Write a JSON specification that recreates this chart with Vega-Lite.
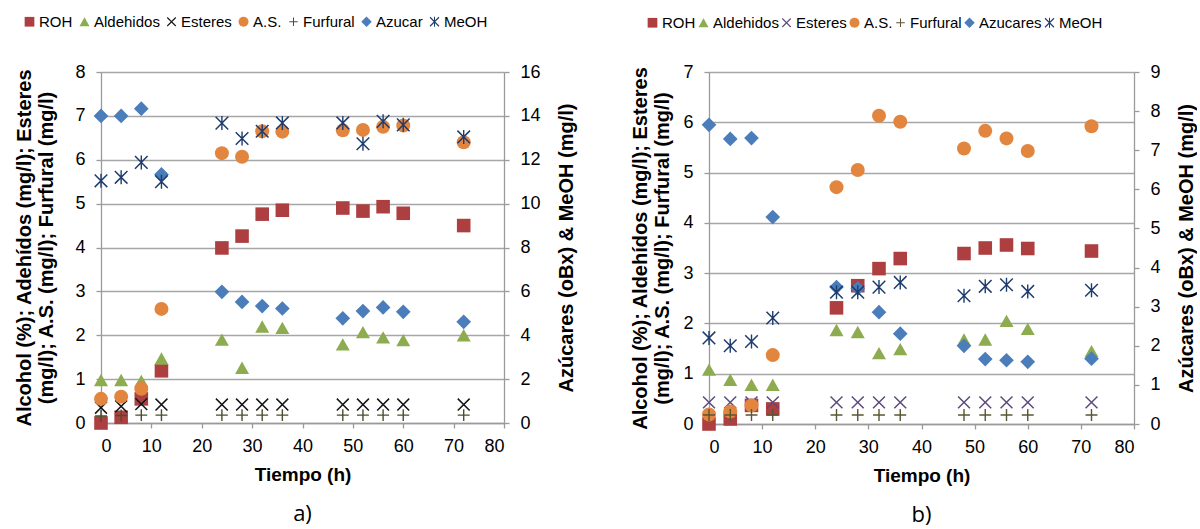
{
  "$schema": "https://vega.github.io/schema/vega-lite/v6.json",
  "background": "white",
  "padding": {"left": 14, "top": 14, "right": 0, "bottom": 2},
  "bounds": "flush",
  "spacing": 205,
  "config": {
    "font": "Liberation Sans",
    "view": {"stroke": null},
    "axis": {
      "labelFont": "Liberation Sans", "labelFontSize": 18, "labelColor": "#000000",
      "titleFont": "Liberation Sans", "titleFontSize": 19, "titleFontWeight": "bold", "titleColor": "#000000",
      "domainColor": "#9A9A9A", "tickColor": "#9A9A9A", "gridColor": "#A6A6A6",
      "domainWidth": 1.3, "gridWidth": 1.3, "tickWidth": 1.3, "tickSize": 5
    },
    "legend": {"labelFont": "Liberation Sans", "labelFontSize": 15, "labelColor": "#000000"}
  },
  "resolve": {
    "scale": {"color": "independent", "shape": "independent", "x": "independent", "y": "independent"},
    "legend": {"color": "independent", "shape": "independent"}
  },
  "datasets": {
    "aL": [
      {"t": 0, "s": "ROH", "v": 0.0}, {"t": 4, "s": "ROH", "v": 0.13}, {"t": 8, "s": "ROH", "v": 0.55}, {"t": 12, "s": "ROH", "v": 1.19},
      {"t": 24, "s": "ROH", "v": 3.99}, {"t": 28, "s": "ROH", "v": 4.26}, {"t": 32, "s": "ROH", "v": 4.76}, {"t": 36, "s": "ROH", "v": 4.85},
      {"t": 48, "s": "ROH", "v": 4.9}, {"t": 52, "s": "ROH", "v": 4.83}, {"t": 56, "s": "ROH", "v": 4.93}, {"t": 60, "s": "ROH", "v": 4.78}, {"t": 72, "s": "ROH", "v": 4.5},
      {"t": 0, "s": "Aldehidos", "v": 0.98}, {"t": 4, "s": "Aldehidos", "v": 0.98}, {"t": 8, "s": "Aldehidos", "v": 0.96}, {"t": 12, "s": "Aldehidos", "v": 1.47},
      {"t": 24, "s": "Aldehidos", "v": 1.9}, {"t": 28, "s": "Aldehidos", "v": 1.26}, {"t": 32, "s": "Aldehidos", "v": 2.2}, {"t": 36, "s": "Aldehidos", "v": 2.17},
      {"t": 48, "s": "Aldehidos", "v": 1.79}, {"t": 52, "s": "Aldehidos", "v": 2.07}, {"t": 56, "s": "Aldehidos", "v": 1.95}, {"t": 60, "s": "Aldehidos", "v": 1.89}, {"t": 72, "s": "Aldehidos", "v": 2.0},
      {"t": 0, "s": "Esteres", "v": 0.35}, {"t": 4, "s": "Esteres", "v": 0.38}, {"t": 8, "s": "Esteres", "v": 0.43}, {"t": 12, "s": "Esteres", "v": 0.42},
      {"t": 24, "s": "Esteres", "v": 0.42}, {"t": 28, "s": "Esteres", "v": 0.42}, {"t": 32, "s": "Esteres", "v": 0.42}, {"t": 36, "s": "Esteres", "v": 0.42},
      {"t": 48, "s": "Esteres", "v": 0.42}, {"t": 52, "s": "Esteres", "v": 0.42}, {"t": 56, "s": "Esteres", "v": 0.42}, {"t": 60, "s": "Esteres", "v": 0.42}, {"t": 72, "s": "Esteres", "v": 0.42},
      {"t": 0, "s": "A.S.", "v": 0.55}, {"t": 4, "s": "A.S.", "v": 0.6}, {"t": 8, "s": "A.S.", "v": 0.78}, {"t": 12, "s": "A.S.", "v": 2.6},
      {"t": 24, "s": "A.S.", "v": 6.15}, {"t": 28, "s": "A.S.", "v": 6.07}, {"t": 32, "s": "A.S.", "v": 6.65}, {"t": 36, "s": "A.S.", "v": 6.64},
      {"t": 48, "s": "A.S.", "v": 6.67}, {"t": 52, "s": "A.S.", "v": 6.68}, {"t": 56, "s": "A.S.", "v": 6.75}, {"t": 60, "s": "A.S.", "v": 6.78}, {"t": 72, "s": "A.S.", "v": 6.4},
      {"t": 0, "s": "Furfural", "v": 0.16}, {"t": 4, "s": "Furfural", "v": 0.17}, {"t": 8, "s": "Furfural", "v": 0.18}, {"t": 12, "s": "Furfural", "v": 0.18},
      {"t": 24, "s": "Furfural", "v": 0.18}, {"t": 28, "s": "Furfural", "v": 0.18}, {"t": 32, "s": "Furfural", "v": 0.18}, {"t": 36, "s": "Furfural", "v": 0.18},
      {"t": 48, "s": "Furfural", "v": 0.18}, {"t": 52, "s": "Furfural", "v": 0.18}, {"t": 56, "s": "Furfural", "v": 0.18}, {"t": 60, "s": "Furfural", "v": 0.18}, {"t": 72, "s": "Furfural", "v": 0.18}
    ],
    "aR": [
      {"t": 0, "s": "Azucar", "v": 14.0}, {"t": 4, "s": "Azucar", "v": 14.0}, {"t": 8, "s": "Azucar", "v": 14.33}, {"t": 12, "s": "Azucar", "v": 11.33},
      {"t": 24, "s": "Azucar", "v": 5.98}, {"t": 28, "s": "Azucar", "v": 5.52}, {"t": 32, "s": "Azucar", "v": 5.33}, {"t": 36, "s": "Azucar", "v": 5.22},
      {"t": 48, "s": "Azucar", "v": 4.77}, {"t": 52, "s": "Azucar", "v": 5.1}, {"t": 56, "s": "Azucar", "v": 5.27}, {"t": 60, "s": "Azucar", "v": 5.07}, {"t": 72, "s": "Azucar", "v": 4.61},
      {"t": 0, "s": "MeOH", "v": 11.04}, {"t": 4, "s": "MeOH", "v": 11.2}, {"t": 8, "s": "MeOH", "v": 11.88}, {"t": 12, "s": "MeOH", "v": 11.0},
      {"t": 24, "s": "MeOH", "v": 13.67}, {"t": 28, "s": "MeOH", "v": 12.97}, {"t": 32, "s": "MeOH", "v": 13.3}, {"t": 36, "s": "MeOH", "v": 13.68},
      {"t": 48, "s": "MeOH", "v": 13.68}, {"t": 52, "s": "MeOH", "v": 12.73}, {"t": 56, "s": "MeOH", "v": 13.75}, {"t": 60, "s": "MeOH", "v": 13.59}, {"t": 72, "s": "MeOH", "v": 13.04}
    ],
    "bL": [
      {"t": 0, "s": "ROH", "v": 0.0}, {"t": 4, "s": "ROH", "v": 0.1}, {"t": 8, "s": "ROH", "v": 0.37}, {"t": 12, "s": "ROH", "v": 0.3},
      {"t": 24, "s": "ROH", "v": 2.31}, {"t": 28, "s": "ROH", "v": 2.75}, {"t": 32, "s": "ROH", "v": 3.09}, {"t": 36, "s": "ROH", "v": 3.29},
      {"t": 48, "s": "ROH", "v": 3.39}, {"t": 52, "s": "ROH", "v": 3.5}, {"t": 56, "s": "ROH", "v": 3.56}, {"t": 60, "s": "ROH", "v": 3.49}, {"t": 72, "s": "ROH", "v": 3.44},
      {"t": 0, "s": "Aldehidos", "v": 1.08}, {"t": 4, "s": "Aldehidos", "v": 0.88}, {"t": 8, "s": "Aldehidos", "v": 0.78}, {"t": 12, "s": "Aldehidos", "v": 0.78},
      {"t": 24, "s": "Aldehidos", "v": 1.87}, {"t": 28, "s": "Aldehidos", "v": 1.83}, {"t": 32, "s": "Aldehidos", "v": 1.41}, {"t": 36, "s": "Aldehidos", "v": 1.49},
      {"t": 48, "s": "Aldehidos", "v": 1.68}, {"t": 52, "s": "Aldehidos", "v": 1.68}, {"t": 56, "s": "Aldehidos", "v": 2.05}, {"t": 60, "s": "Aldehidos", "v": 1.89}, {"t": 72, "s": "Aldehidos", "v": 1.45},
      {"t": 0, "s": "Esteres", "v": 0.43}, {"t": 4, "s": "Esteres", "v": 0.43}, {"t": 8, "s": "Esteres", "v": 0.43}, {"t": 12, "s": "Esteres", "v": 0.43},
      {"t": 24, "s": "Esteres", "v": 0.43}, {"t": 28, "s": "Esteres", "v": 0.43}, {"t": 32, "s": "Esteres", "v": 0.43}, {"t": 36, "s": "Esteres", "v": 0.43},
      {"t": 48, "s": "Esteres", "v": 0.43}, {"t": 52, "s": "Esteres", "v": 0.43}, {"t": 56, "s": "Esteres", "v": 0.43}, {"t": 60, "s": "Esteres", "v": 0.43}, {"t": 72, "s": "Esteres", "v": 0.43},
      {"t": 0, "s": "A.S.", "v": 0.19}, {"t": 4, "s": "A.S.", "v": 0.25}, {"t": 8, "s": "A.S.", "v": 0.37}, {"t": 12, "s": "A.S.", "v": 1.37},
      {"t": 24, "s": "A.S.", "v": 4.71}, {"t": 28, "s": "A.S.", "v": 5.05}, {"t": 32, "s": "A.S.", "v": 6.13}, {"t": 36, "s": "A.S.", "v": 6.01},
      {"t": 48, "s": "A.S.", "v": 5.48}, {"t": 52, "s": "A.S.", "v": 5.83}, {"t": 56, "s": "A.S.", "v": 5.68}, {"t": 60, "s": "A.S.", "v": 5.43}, {"t": 72, "s": "A.S.", "v": 5.92},
      {"t": 0, "s": "Furfural", "v": 0.18}, {"t": 4, "s": "Furfural", "v": 0.18}, {"t": 8, "s": "Furfural", "v": 0.18}, {"t": 12, "s": "Furfural", "v": 0.18},
      {"t": 24, "s": "Furfural", "v": 0.18}, {"t": 28, "s": "Furfural", "v": 0.18}, {"t": 32, "s": "Furfural", "v": 0.18}, {"t": 36, "s": "Furfural", "v": 0.18},
      {"t": 48, "s": "Furfural", "v": 0.18}, {"t": 52, "s": "Furfural", "v": 0.18}, {"t": 56, "s": "Furfural", "v": 0.18}, {"t": 60, "s": "Furfural", "v": 0.18}, {"t": 72, "s": "Furfural", "v": 0.18}
    ],
    "bR": [
      {"t": 0, "s": "Azucares", "v": 7.65}, {"t": 4, "s": "Azucares", "v": 7.29}, {"t": 8, "s": "Azucares", "v": 7.31}, {"t": 12, "s": "Azucares", "v": 5.29},
      {"t": 24, "s": "Azucares", "v": 3.5}, {"t": 28, "s": "Azucares", "v": 3.47}, {"t": 32, "s": "Azucares", "v": 2.86}, {"t": 36, "s": "Azucares", "v": 2.31},
      {"t": 48, "s": "Azucares", "v": 2.0}, {"t": 52, "s": "Azucares", "v": 1.66}, {"t": 56, "s": "Azucares", "v": 1.63}, {"t": 60, "s": "Azucares", "v": 1.59}, {"t": 72, "s": "Azucares", "v": 1.67},
      {"t": 0, "s": "MeOH", "v": 2.2}, {"t": 4, "s": "MeOH", "v": 2.0}, {"t": 8, "s": "MeOH", "v": 2.11}, {"t": 12, "s": "MeOH", "v": 2.71},
      {"t": 24, "s": "MeOH", "v": 3.37}, {"t": 28, "s": "MeOH", "v": 3.37}, {"t": 32, "s": "MeOH", "v": 3.5}, {"t": 36, "s": "MeOH", "v": 3.62},
      {"t": 48, "s": "MeOH", "v": 3.28}, {"t": 52, "s": "MeOH", "v": 3.52}, {"t": 56, "s": "MeOH", "v": 3.56}, {"t": 60, "s": "MeOH", "v": 3.39}, {"t": 72, "s": "MeOH", "v": 3.42}
    ]
  },
  "hconcat": [
    {
      "width": 403,
      "height": 351,
      "title": {"text": "a)", "orient": "bottom", "frame": "group", "font": "Open Sans", "fontSize": 22, "fontWeight": "normal", "color": "#000000", "offset": 20},
      "resolve": {"scale": {"y": "independent"}},
      "layer": [
        {
          "data": {"name": "aL"},
          "mark": {"type": "point", "filled": true, "opacity": 1, "size": 196},
          "encoding": {
            "x": {"field": "t", "type": "quantitative", "scale": {"domain": [0, 80], "nice": false},
                  "axis": {"values": [0, 10, 20, 30, 40, 50, 60, 70, 80], "grid": false, "title": "Tiempo (h)", "labelPadding": 9, "titlePadding": 10}},
            "y": {"field": "v", "type": "quantitative", "scale": {"domain": [0, 8], "nice": false},
                  "axis": {"orient": "left", "values": [0, 1, 2, 3, 4, 5, 6, 7, 8], "grid": true, "labelPadding": 11, "titlePadding": 18, "titleFontSize": 20,
                           "title": ["Alcohol (%);  Adehídos (mg/l); Esteres", "(mg/l); A.S.  (mg/l); Furfural  (mg/l)"]}},
            "color": {"field": "s", "type": "nominal",
                      "scale": {"domain": ["ROH", "Aldehidos", "Esteres", "A.S.", "Furfural", "Azucar", "MeOH"],
                                "range": ["#AD3F40", "#8DAB4F", "#151515", "#E2853F", "#4F4C2C", "#4A7DBA", "#1F3C6E"]},
                      "legend": {"orient": "none", "direction": "horizontal", "legendX": -79, "legendY": -58, "title": null, "symbolSize": 100, "columnPadding": 4, "labelOffset": 2, "symbolStrokeWidth": 0}},
            "shape": {"field": "s", "type": "nominal",
                      "scale": {"domain": ["ROH", "Aldehidos", "Esteres", "A.S.", "Furfural", "Azucar", "MeOH"],
                                "range": [
                                  "M-0.97 -0.97 L0.97 -0.97 L0.97 0.97 L-0.97 0.97 Z",
                                  "M0 -0.88 L1 0.88 L-1 0.88 Z",
                                  "M-0.774 -0.926 L0.926 0.774 L0.774 0.926 L-0.926 -0.774 Z M0.774 -0.926 L0.926 -0.774 L-0.774 0.926 L-0.926 0.774 Z",
                                  "circle",
                                  "M-0.85 -0.1 L0.85 -0.1 L0.85 0.1 L-0.85 0.1 Z M-0.1 -0.85 L0.1 -0.85 L0.1 0.85 L-0.1 0.85 Z",
                                  "M0 -1.05 L1.05 0 L0 1.05 L-1.05 0 Z",
                                  "M-0.824 -0.976 L0.976 0.824 L0.824 0.976 L-0.976 -0.824 Z M0.824 -0.976 L0.976 -0.824 L-0.824 0.976 L-0.976 0.824 Z M-0.1 -1 L0.1 -1 L0.1 1 L-0.1 1 Z"
                                ]},
                      "legend": {"orient": "none", "direction": "horizontal", "legendX": -79, "legendY": -58, "title": null, "symbolSize": 100, "columnPadding": 4, "labelOffset": 2, "symbolStrokeWidth": 0}}
          }
        },
        {
          "data": {"name": "aR"},
          "mark": {"type": "point", "filled": true, "opacity": 1, "size": 196},
          "encoding": {
            "x": {"field": "t", "type": "quantitative", "scale": {"domain": [0, 80], "nice": false},
                  "axis": {"values": [0, 10, 20, 30, 40, 50, 60, 70, 80], "grid": false, "title": "Tiempo (h)", "labelPadding": 9, "titlePadding": 10}},
            "y": {"field": "v", "type": "quantitative", "scale": {"domain": [0, 16], "nice": false},
                  "axis": {"orient": "right", "values": [0, 2, 4, 6, 8, 10, 12, 14, 16], "grid": false, "labelPadding": 11, "titlePadding": 36, "titleAngle": 270, "titleFontSize": 20,
                           "title": "Azúcares (oBx) & MeOH (mg/l)"}},
            "color": {"field": "s", "type": "nominal",
                      "scale": {"domain": ["ROH", "Aldehidos", "Esteres", "A.S.", "Furfural", "Azucar", "MeOH"],
                                "range": ["#AD3F40", "#8DAB4F", "#151515", "#E2853F", "#4F4C2C", "#4A7DBA", "#1F3C6E"]},
                      "legend": {"orient": "none", "direction": "horizontal", "legendX": -79, "legendY": -58, "title": null, "symbolSize": 100, "columnPadding": 4, "labelOffset": 2, "symbolStrokeWidth": 0}},
            "shape": {"field": "s", "type": "nominal",
                      "scale": {"domain": ["ROH", "Aldehidos", "Esteres", "A.S.", "Furfural", "Azucar", "MeOH"],
                                "range": [
                                  "M-0.97 -0.97 L0.97 -0.97 L0.97 0.97 L-0.97 0.97 Z",
                                  "M0 -0.88 L1 0.88 L-1 0.88 Z",
                                  "M-0.774 -0.926 L0.926 0.774 L0.774 0.926 L-0.926 -0.774 Z M0.774 -0.926 L0.926 -0.774 L-0.774 0.926 L-0.926 0.774 Z",
                                  "circle",
                                  "M-0.85 -0.1 L0.85 -0.1 L0.85 0.1 L-0.85 0.1 Z M-0.1 -0.85 L0.1 -0.85 L0.1 0.85 L-0.1 0.85 Z",
                                  "M0 -1.05 L1.05 0 L0 1.05 L-1.05 0 Z",
                                  "M-0.824 -0.976 L0.976 0.824 L0.824 0.976 L-0.976 -0.824 Z M0.824 -0.976 L0.976 -0.824 L-0.824 0.976 L-0.976 0.824 Z M-0.1 -1 L0.1 -1 L0.1 1 L-0.1 1 Z"
                                ]},
                      "legend": {"orient": "none", "direction": "horizontal", "legendX": -79, "legendY": -58, "title": null, "symbolSize": 100, "columnPadding": 4, "labelOffset": 2, "symbolStrokeWidth": 0}}
          }
        }
      ]
    },
    {
      "width": 425,
      "height": 352,
      "title": {"text": "b)", "orient": "bottom", "frame": "group", "font": "Open Sans", "fontSize": 22, "fontWeight": "normal", "color": "#000000", "offset": 20},
      "resolve": {"scale": {"y": "independent"}},
      "layer": [
        {
          "data": {"name": "bL"},
          "mark": {"type": "point", "filled": true, "opacity": 1, "size": 196},
          "encoding": {
            "x": {"field": "t", "type": "quantitative", "scale": {"domain": [0, 80], "nice": false},
                  "axis": {"values": [0, 10, 20, 30, 40, 50, 60, 70, 80], "grid": false, "title": "Tiempo (h)", "labelPadding": 9, "titlePadding": 10}},
            "y": {"field": "v", "type": "quantitative", "scale": {"domain": [0, 7], "nice": false},
                  "axis": {"orient": "left", "values": [0, 1, 2, 3, 4, 5, 6, 7], "grid": true, "labelPadding": 11, "titlePadding": 10, "titleFontSize": 20,
                           "title": ["Alcohol (%); Aldehídos (mg/l); Esteres", "(mg/l); A.S. (mg/l); Furfural (mg/l)"]}},
            "color": {"field": "s", "type": "nominal",
                      "scale": {"domain": ["ROH", "Aldehidos", "Esteres", "A.S.", "Furfural", "Azucares", "MeOH"],
                                "range": ["#AD3F40", "#8DAB4F", "#5D4A7D", "#E2853F", "#5A5533", "#4A7DBA", "#1F3C6E"]},
                      "legend": {"orient": "none", "direction": "horizontal", "legendX": -64, "legendY": -57, "title": null, "symbolSize": 100, "columnPadding": -4, "labelOffset": 2, "symbolStrokeWidth": 0}},
            "shape": {"field": "s", "type": "nominal",
                      "scale": {"domain": ["ROH", "Aldehidos", "Esteres", "A.S.", "Furfural", "Azucares", "MeOH"],
                                "range": [
                                  "M-0.97 -0.97 L0.97 -0.97 L0.97 0.97 L-0.97 0.97 Z",
                                  "M0 -0.88 L1 0.88 L-1 0.88 Z",
                                  "M-0.774 -0.926 L0.926 0.774 L0.774 0.926 L-0.926 -0.774 Z M0.774 -0.926 L0.926 -0.774 L-0.774 0.926 L-0.926 0.774 Z",
                                  "circle",
                                  "M-0.85 -0.1 L0.85 -0.1 L0.85 0.1 L-0.85 0.1 Z M-0.1 -0.85 L0.1 -0.85 L0.1 0.85 L-0.1 0.85 Z",
                                  "M0 -1.05 L1.05 0 L0 1.05 L-1.05 0 Z",
                                  "M-0.824 -0.976 L0.976 0.824 L0.824 0.976 L-0.976 -0.824 Z M0.824 -0.976 L0.976 -0.824 L-0.824 0.976 L-0.976 0.824 Z M-0.1 -1 L0.1 -1 L0.1 1 L-0.1 1 Z"
                                ]},
                      "legend": {"orient": "none", "direction": "horizontal", "legendX": -64, "legendY": -57, "title": null, "symbolSize": 100, "columnPadding": -4, "labelOffset": 2, "symbolStrokeWidth": 0}}
          }
        },
        {
          "data": {"name": "bR"},
          "mark": {"type": "point", "filled": true, "opacity": 1, "size": 196},
          "encoding": {
            "x": {"field": "t", "type": "quantitative", "scale": {"domain": [0, 80], "nice": false},
                  "axis": {"values": [0, 10, 20, 30, 40, 50, 60, 70, 80], "grid": false, "title": "Tiempo (h)", "labelPadding": 9, "titlePadding": 10}},
            "y": {"field": "v", "type": "quantitative", "scale": {"domain": [0, 9], "nice": false},
                  "axis": {"orient": "right", "values": [0, 1, 2, 3, 4, 5, 6, 7, 8, 9], "grid": false, "labelPadding": 11, "titlePadding": 36, "titleAngle": 270, "titleFontSize": 20,
                           "title": "Azúcares (oBx) & MeOH (mg/l)"}},
            "color": {"field": "s", "type": "nominal",
                      "scale": {"domain": ["ROH", "Aldehidos", "Esteres", "A.S.", "Furfural", "Azucares", "MeOH"],
                                "range": ["#AD3F40", "#8DAB4F", "#5D4A7D", "#E2853F", "#5A5533", "#4A7DBA", "#1F3C6E"]},
                      "legend": {"orient": "none", "direction": "horizontal", "legendX": -64, "legendY": -57, "title": null, "symbolSize": 100, "columnPadding": -4, "labelOffset": 2, "symbolStrokeWidth": 0}},
            "shape": {"field": "s", "type": "nominal",
                      "scale": {"domain": ["ROH", "Aldehidos", "Esteres", "A.S.", "Furfural", "Azucares", "MeOH"],
                                "range": [
                                  "M-0.97 -0.97 L0.97 -0.97 L0.97 0.97 L-0.97 0.97 Z",
                                  "M0 -0.88 L1 0.88 L-1 0.88 Z",
                                  "M-0.774 -0.926 L0.926 0.774 L0.774 0.926 L-0.926 -0.774 Z M0.774 -0.926 L0.926 -0.774 L-0.774 0.926 L-0.926 0.774 Z",
                                  "circle",
                                  "M-0.85 -0.1 L0.85 -0.1 L0.85 0.1 L-0.85 0.1 Z M-0.1 -0.85 L0.1 -0.85 L0.1 0.85 L-0.1 0.85 Z",
                                  "M0 -1.05 L1.05 0 L0 1.05 L-1.05 0 Z",
                                  "M-0.824 -0.976 L0.976 0.824 L0.824 0.976 L-0.976 -0.824 Z M0.824 -0.976 L0.976 -0.824 L-0.824 0.976 L-0.976 0.824 Z M-0.1 -1 L0.1 -1 L0.1 1 L-0.1 1 Z"
                                ]},
                      "legend": {"orient": "none", "direction": "horizontal", "legendX": -64, "legendY": -57, "title": null, "symbolSize": 100, "columnPadding": -4, "labelOffset": 2, "symbolStrokeWidth": 0}}
          }
        }
      ]
    }
  ]
}
